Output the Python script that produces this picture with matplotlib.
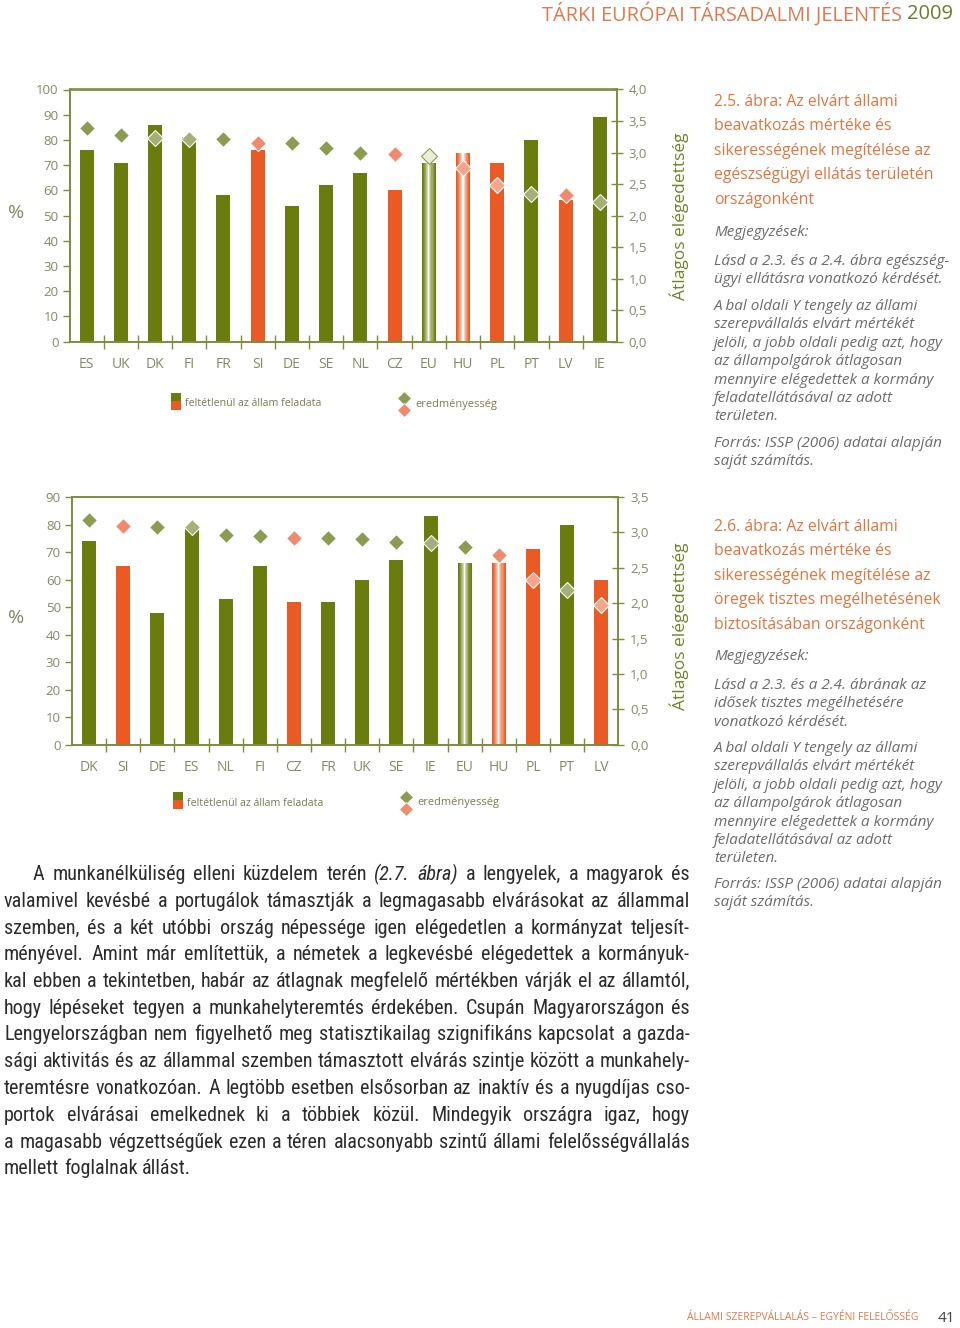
import numpy as np
import matplotlib
matplotlib.use('Agg')
import matplotlib.pyplot as plt
from matplotlib import font_manager
from matplotlib.colors import to_rgb

# 2.5. abra - egeszsegugyi ellatas
hc_countries = ['ES', 'UK', 'DK', 'FI', 'FR', 'SI', 'DE', 'SE', 'NL', 'CZ', 'EU', 'HU', 'PL', 'PT', 'LV', 'IE']
hc_state = [76, 71, 86, 81, 58, 76, 54, 62, 67, 60, 71, 75, 71, 80, 56, 89]
hc_satisf = [3.39, 3.28, 3.23, 3.22, 3.21, 3.15, 3.15, 3.07, 2.99, 2.97, 2.95, 2.76, 2.48, 2.35, 2.32, 2.22]

# 2.6. abra - oregek tisztes megelhetese
old_countries = ['DK', 'SI', 'DE', 'ES', 'NL', 'FI', 'CZ', 'FR', 'UK', 'SE', 'IE', 'EU', 'HU', 'PL', 'PT', 'LV']
old_state = [74, 65, 48, 79, 53, 65, 52, 52, 60, 67, 83, 66, 66, 71, 80, 60]
old_satisf = [3.17, 3.09, 3.08, 3.07, 2.97, 2.95, 2.92, 2.92, 2.90, 2.87, 2.85, 2.79, 2.68, 2.33, 2.18, 1.97]

orange_group = ['SI', 'CZ', 'HU', 'PL', 'LV']

hc_left_ticks = [0, 10, 20, 30, 40, 50, 60, 70, 80, 90, 100]
hc_right_ticks = [0.0, 0.5, 1.0, 1.5, 2.0, 2.5, 3.0, 3.5, 4.0]
old_left_ticks = [0, 10, 20, 30, 40, 50, 60, 70, 80, 90]
old_right_ticks = [0.0, 0.5, 1.0, 1.5, 2.0, 2.5, 3.0, 3.5]

GREEN = '#6b7c0e'
ORANGE = '#e95a24'
SPINE = '#7f8c3c'
TICKTXT = '#86866c'
DIA_G = '#8b9b50'
DIA_G_LIGHT = '#a4b076'
DIA_O = '#ef8a6c'
DIA_O_LIGHT = '#f4a58c'
CAPTION = '#e0753f'
NOTE = '#6b6b6b'

names = {f.name for f in font_manager.fontManager.ttflist}
CHART_FONT = 'Open Sans' if 'Open Sans' in names else 'DejaVu Sans'
plt.rcParams['font.family'] = [CHART_FONT, 'DejaVu Sans']

W, H = 960, 1328
fig = plt.figure(figsize=(W / 100, H / 100), dpi=100)
fig.patch.set_facecolor('white')

page = fig.add_axes([0, 0, 1, 1])
page.set_xlim(0, W)
page.set_ylim(H, 0)
page.axis('off')


def gradient_bar(ax, x, h, width, base, n=13):
    base = np.array(to_rgb(base))
    edges = np.linspace(x - width / 2, x + width / 2, n + 1)
    for k in range(n):
        c = (edges[k] + edges[k + 1]) / 2
        t = abs(c - x) / (width / 2)
        t = min(1.0, t ** 0.7 * 1.1)
        col = (1 - t) * np.ones(3) + t * base
        ax.bar(c, h, width=edges[k + 1] - edges[k], color=col, linewidth=0, zorder=2)


def draw_chart(rect, countries, state, satisf, lticks, rticks, eu_light):
    ax = fig.add_axes(rect)
    n = len(countries)
    x = np.arange(n)
    lmax, rmax = lticks[-1], rticks[-1]
    ax.set_xlim(-0.5, n - 0.5)
    ax.set_ylim(0, lmax)
    bw = 0.41
    for i, c in enumerate(countries):
        if c == 'EU':
            gradient_bar(ax, x[i], state[i], bw, GREEN)
        elif c == 'HU':
            gradient_bar(ax, x[i], state[i], bw, ORANGE)
        else:
            ax.bar(x[i], state[i], width=bw, color=ORANGE if c in orange_group else GREEN,
                   linewidth=0, zorder=2)
    for s in ['left', 'right', 'top', 'bottom']:
        ax.spines[s].set_color(SPINE)
        ax.spines[s].set_linewidth(1.2)
    ax.set_yticks(lticks)
    ax.set_yticklabels([str(v) for v in lticks])
    ax.tick_params(axis='y', direction='out', length=5, width=1, color=SPINE,
                   labelcolor=TICKTXT, labelsize=9.5, pad=3)
    ax.set_xticks(x)
    ax.set_xticklabels(countries)
    ax.tick_params(axis='x', which='major', length=0, labelcolor=TICKTXT, labelsize=10, pad=11)
    ax.set_xticks(np.arange(n - 1) + 0.5, minor=True)
    ax.tick_params(axis='x', which='minor', direction='inout', length=10, width=1, color=SPINE)

    ax2 = ax.twinx()
    ax2.set_ylim(0, rmax)
    for s in ['left', 'right', 'top', 'bottom']:
        ax2.spines[s].set_color(SPINE)
        ax2.spines[s].set_linewidth(1.2)
    ax2.set_yticks(rticks)
    ax2.set_yticklabels([f'{v:.1f}'.replace('.', ',') for v in rticks])
    ax2.tick_params(axis='y', direction='inout', length=9, width=1, color=SPINE,
                    labelcolor=TICKTXT, labelsize=9.5, pad=4)
    for i, c in enumerate(countries):
        over = satisf[i] / rmax * lmax < state[i]
        edge = 'white'
        if c in orange_group:
            fc = DIA_O_LIGHT if over else DIA_O
        else:
            fc = DIA_G_LIGHT if over else DIA_G
        if c == 'EU' and eu_light:
            fc, edge = '#e9eddb', DIA_G
        ax2.plot(x[i], satisf[i], marker='D', markersize=8.5, color=fc,
                 markeredgecolor=edge, markeredgewidth=0.8, linestyle='none', zorder=3)
    return ax


def px_rect(l, t, r, b):
    return [l / W, 1 - b / H, (r - l) / W, (b - t) / H]


draw_chart(px_rect(69.5, 89.5, 617, 341.7), hc_countries, hc_state, hc_satisf,
           hc_left_ticks, hc_right_ticks, True)
draw_chart(px_rect(72, 497, 618.3, 744.7), old_countries, old_state, old_satisf,
           old_left_ticks, old_right_ticks, False)

# % and right axis labels
for yy in (213, 618):
    page.text(16, yy, '%', fontsize=14, color=TICKTXT, ha='center', va='center')
page.text(679, 216, 'Átlagos elégedettség', rotation=90, fontsize=12.5, color='#6f8228',
          ha='center', va='center')
page.text(679, 626, 'Átlagos elégedettség', rotation=90, fontsize=12.5, color='#6f8228',
          ha='center', va='center')


# legends
def legend(x_sq, x_dia, yc):
    page.add_patch(plt.Rectangle((x_sq, yc - 11), 10, 8, color=GREEN, lw=0))
    page.add_patch(plt.Rectangle((x_sq, yc - 3), 10, 9, color=ORANGE, lw=0))
    page.text(x_sq + 14, yc, 'feltétlenül az állam feladata', fontsize=7.7, color='#7b7b52',
              va='center', ha='left')
    page.plot([x_dia], [yc - 6], marker='D', markersize=7.5, color=DIA_G, mec='white', mew=0.6)
    page.plot([x_dia], [yc + 6], marker='D', markersize=7.5, color=DIA_O, mec='white', mew=0.6)
    page.text(x_dia + 11, yc, 'eredményesség', fontsize=7.9, color='#7b7b52', va='center', ha='left')


legend(171, 404, 404)
legend(173, 406, 803)

# header
t2009 = page.text(953, 14, '2009', fontsize=14.5, color='#6b7c2a', ha='right', va='center')
page.annotate('TÁRKI EURÓPAI TÁRSADALMI JELENTÉS ', xy=(0, 0.5), xycoords=t2009,
              fontsize=14.3, color='#e0784c', ha='right', va='center')

# footer
page.text(955, 1318, '41', fontsize=11, color='#444444', ha='right', va='center')
page.text(918, 1318, 'ÁLLAMI SZEREPVÁLLALÁS – EGYÉNI FELELŐSSÉG', fontsize=7.5, color='#e0784c',
          ha='right', va='center')

# right column texts
cap1 = ['2.5. ábra: Az elvárt állami', 'beavatkozás mértéke és', 'sikerességének megítélése az',
        'egészségügyi ellátás területén', 'országonként']
cap2 = ['2.6. ábra: Az elvárt állami', 'beavatkozás mértéke és', 'sikerességének megítélése az',
        'öregek tisztes megélhetésének', 'biztosításában országonként']
note_common = ['A bal oldali Y tengely az állami', 'szerepvállalás elvárt mértékét',
               'jelöli, a jobb oldali pedig azt, hogy', 'az állampolgárok átlagosan',
               'mennyire elégedettek a kormány', 'feladatellátásával az adott', 'területen.']
src = ['Forrás: ISSP (2006) adatai alapján', 'saját számítás.']
note1 = ['Lásd a 2.3. és a 2.4. ábra egészség-', 'ügyi ellátásra vonatkozó kérdését.']
note2 = ['Lásd a 2.3. és a 2.4. ábrának az', 'idősek tisztes megélhetésére', 'vonatkozó kérdését.']

CAP_FS, NOTE_FS = 11.3, 11.0


def side_block(y_cap, captions, y_meg, notes_a, y_b, y_src):
    for i, s in enumerate(captions):
        page.text(714, y_cap + i * 24.4, s, fontsize=CAP_FS, color=CAPTION, ha='left', va='baseline')
    page.text(714, y_meg, 'Megjegyzések:', fontsize=NOTE_FS, color=NOTE, style='italic', ha='left',
              va='baseline')
    for i, s in enumerate(notes_a):
        page.text(714, y_meg + 29 + i * 18.4, s, fontsize=NOTE_FS, color=NOTE, style='italic',
                  ha='left', va='baseline')
    for i, s in enumerate(note_common):
        page.text(714, y_b + i * 18.4, s, fontsize=NOTE_FS, color=NOTE, style='italic', ha='left',
                  va='baseline')
    for i, s in enumerate(src):
        page.text(714, y_src + i * 18.4, s, fontsize=NOTE_FS, color=NOTE, style='italic', ha='left',
                  va='baseline')


side_block(106, cap1, 236, note1, 310, 447)
side_block(531, cap2, 660, note2, 752, 888)

# body paragraph (justified)
body_lines = [
    'A munkanélküliség elleni küzdelem terén *(2.7. *ábra) a lengyelek, a magyarok és',
    'valamivel kevésbé a portugálok támasztják a legmagasabb elvárásokat az állammal',
    'szemben, és a két utóbbi ország népessége igen elégedetlen a kormányzat teljesít-',
    'ményével. Amint már említettük, a németek a legkevésbé elégedettek a kormányuk-',
    'kal ebben a tekintetben, habár az átlagnak megfelelő mértékben várják el az államtól,',
    'hogy lépéseket tegyen a munkahelyteremtés érdekében. Csupán Magyarországon és',
    'Lengyelországban nem figyelhető meg statisztikailag szignifikáns kapcsolat a gazda-',
    'sági aktivitás és az állammal szemben támasztott elvárás szintje között a munkahely-',
    'teremtésre vonatkozóan. A legtöbb esetben elsősorban az inaktív és a nyugdíjas cso-',
    'portok elvárásai emelkednek ki a többiek közül. Mindegyik országra igaz, hogy',
    'a magasabb végzettségűek ezen a téren alacsonyabb szintű állami felelősségvállalás',
    'mellett foglalnak állást.',
]

body_fp = None
for cand in ['Liberation Sans Narrow', 'Roboto Condensed', 'Open Sans Condensed', 'Noto Sans Condensed']:
    if cand in names:
        body_fp = dict(family=[cand, 'DejaVu Sans'])
        break
if body_fp is None:
    cond = [f for f in font_manager.fontManager.ttflist
            if f.stretch in ('condensed', 'semi-condensed', 'extra-condensed') and f.style == 'normal']
    if cond:
        body_fp = dict(family=[cond[0].name, 'DejaVu Sans'], stretch=cond[0].stretch)
    else:
        body_fp = dict(family=['Roboto', 'DejaVu Sans'] if 'Roboto' in names else ['DejaVu Sans'])

renderer = fig.canvas.get_renderer()


def word_width(w, fs, italic):
    t = page.text(0, 0, w, fontsize=fs, style='italic' if italic else 'normal', **body_fp)
    wd = t.get_window_extent(renderer).width
    t.remove()
    return wd


X0, X1, INDENT = 4, 690, 33
fs = 13.5
space = word_width('a a', fs, False) - 2 * word_width('a', fs, False)
ratio = 0
for k, line in enumerate(body_lines[:-1]):
    ws = line.split(' ')
    tot = sum(word_width(w.lstrip('*'), fs, w.startswith('*')) for w in ws) + space * (len(ws) - 1)
    avail = X1 - (INDENT if k == 0 else X0)
    ratio = max(ratio, tot / avail)
fs = min(16.0, fs / ratio * 0.99)

space = word_width('a a', fs, False) - 2 * word_width('a', fs, False)
for k, line in enumerate(body_lines):
    ws = line.split(' ')
    widths = [word_width(w.lstrip('*'), fs, w.startswith('*')) for w in ws]
    xs = INDENT if k == 0 else X0
    if k < len(body_lines) - 1:
        gap = (X1 - xs - sum(widths)) / (len(ws) - 1)
    else:
        gap = space
    yb = 880 + k * 26.75
    xc = xs
    for w, wd in zip(ws, widths):
        page.text(xc, yb, w.lstrip('*'), fontsize=fs, color='#2b2b2b', ha='left', va='baseline',
                  style='italic' if w.startswith('*') else 'normal', **body_fp)
        xc += wd + gap

fig.savefig('out.png', dpi=100, facecolor='white')
